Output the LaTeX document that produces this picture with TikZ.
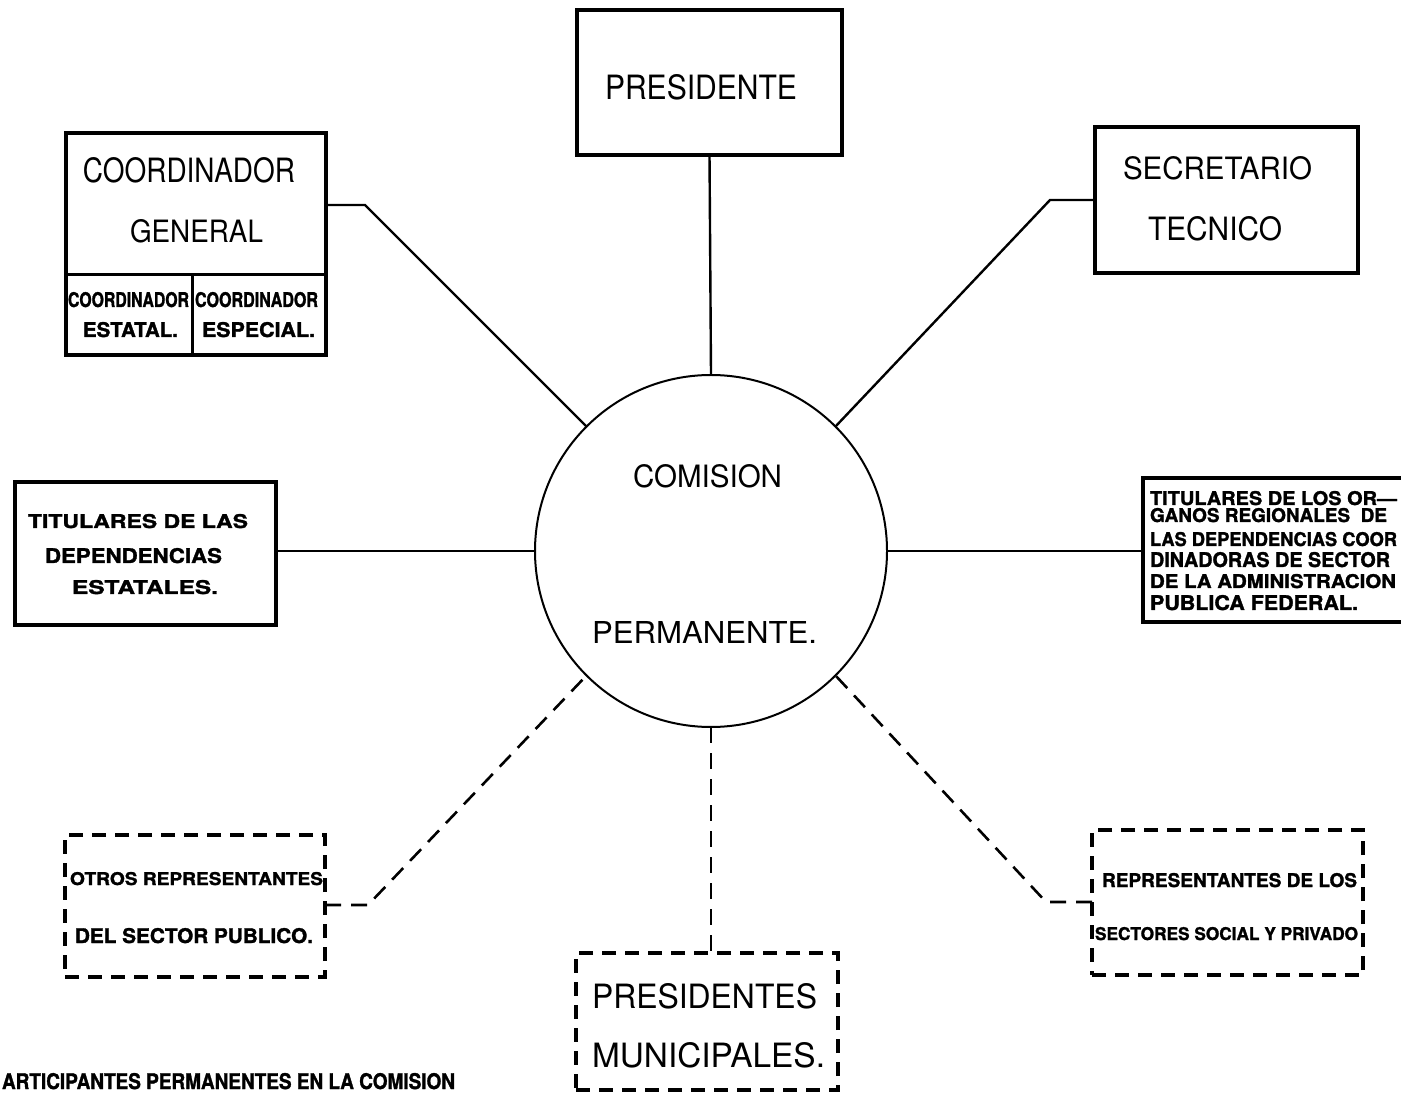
\documentclass[tikz,border=0pt]{standalone}
\usepackage{fontspec}
\usepackage{graphicx}
\setmainfont{TeX Gyre Heros}
\newfontfamily\heavy{TeX Gyre Heros}[BoldFeatures={FakeBold=1.5}]
\newdimen\pxu \pxu=0.5pt
\newcommand\ft[3]{\resizebox{#1\pxu}{#2\pxu}{#3}}
\newcommand\hb{\heavy\bfseries}
\tikzset{
  box/.style={draw, rectangle, line width=1.7pt, inner sep=0pt, outer sep=0pt},
  dbox/.style={box, dash pattern=on 14\pxu off 9\pxu},
  conn/.style={line width=1.2pt},
  dconn/.style={conn, line width=1.3pt, dash pattern=on 16\pxu off 10\pxu},
  lbl/.style={inner sep=0pt, outer sep=0pt, anchor=base west},
}
\begin{document}
\begin{tikzpicture}[x=0.5pt, y=-0.5pt]
\useasboundingbox (0,0) rectangle (1401,1095);
\clip (0,0) rectangle (1401,1095);

% central circle
\node[draw, circle, line width=1pt, minimum size=352\pxu, inner sep=0pt, outer sep=0pt] (com) at (711,551) {};
\node[lbl] (comA) at (633,488) {\ft{149}{23}{COMISION}};
\node[lbl] (comB) at (592,643) {\ft{225}{22}{PERMANENTE.}};

% boxes
\node[box, minimum width=265\pxu, minimum height=145\pxu] (pres) at (709.5,82.5) {};
\node[box, minimum width=260\pxu, minimum height=222\pxu] (cg) at (196,244) {};
\node[box, minimum width=263\pxu, minimum height=146\pxu] (sec) at (1226.5,200) {};
\node[box, minimum width=261\pxu, minimum height=143\pxu] (tde) at (145.5,553.5) {};
\node[box, minimum width=272\pxu, minimum height=144\pxu] (tor) at (1279,550) {};
\node[dbox, minimum width=260\pxu, minimum height=142\pxu] (otros) at (195,906) {};
\node[dbox, minimum width=262\pxu, minimum height=137\pxu] (pm) at (707,1021.5) {};
\node[dbox, minimum width=271\pxu, minimum height=145\pxu] (rep) at (1227.5,902.5) {};

% subdivisions of coordinador general
\coordinate (cgm) at (66,275);
\coordinate (cgv) at (192,275);
\draw[line width=1.5pt] (cgm) -- (cgm -| cg.east);
\draw[line width=1.5pt] (cgv) -- (cgv |- cg.south);

% texts
\node[lbl] (t1) at (605,100) {\ft{192}{25}{PRESIDENTE}};
\node[lbl] (t2) at (83,183) {\ft{212}{25}{COORDINADOR}};
\node[lbl] (t3) at (130,243) {\ft{133}{23}{GENERAL}};
\node[lbl] (t4) at (68,307) {\ft{121}{15}{\hb COORDINADOR}};
\node[lbl] (t5) at (83,337) {\ft{95}{15}{\hb ESTATAL.}};
\node[lbl] (t6) at (195,307) {\ft{123}{15}{\hb COORDINADOR}};
\node[lbl] (t7) at (202,337) {\ft{113}{15}{\hb ESPECIAL.}};
\node[lbl] (t8) at (1123,180) {\ft{189}{23}{SECRETARIO}};
\node[lbl] (t9) at (1148,241) {\ft{134}{24}{TECNICO}};
\node[lbl] (t10) at (28,528) {\ft{220}{14}{\hb TITULARES DE LAS}};
\node[lbl] (t11) at (45,563) {\ft{177}{15}{\hb DEPENDENCIAS}};
\node[lbl] (t12) at (72,594) {\ft{146}{14}{\hb ESTATALES.}};
\node[lbl] (t13) at (1150,505) {\ft{247}{14}{\hb TITULARES DE LOS OR—}};
\node[lbl] (t14) at (1150,522) {\ft{237}{14}{\hb GANOS REGIONALES\ \ DE}};
\node[lbl] (t15) at (1150,546) {\ft{247}{14}{\hb LAS DEPENDENCIAS COOR}};
\node[lbl] (t16) at (1150,567) {\ft{240}{15}{\hb DINADORAS DE SECTOR}};
\node[lbl] (t17) at (1150,588) {\ft{246}{14}{\hb DE LA ADMINISTRACION}};
\node[lbl] (t18) at (1150,610) {\ft{208}{15}{\hb PUBLICA FEDERAL.}};
\node[lbl] (t19) at (70,885) {\ft{253}{13}{\hb OTROS REPRESENTANTES}};
\node[lbl] (t20) at (75,943) {\ft{238}{15}{\hb DEL SECTOR PUBLICO.}};
\node[lbl] (t21) at (592,1008) {\ft{225}{25}{PRESIDENTES}};
\node[lbl] (t22) at (592,1067) {\ft{233}{25}{MUNICIPALES.}};
\node[lbl] (t23) at (1102,887) {\ft{255}{14}{\hb REPRESENTANTES DE LOS}};
\node[lbl] (t24) at (1095,940) {\ft{263}{13}{\hb SECTORES SOCIAL Y PRIVADO}};
\node[lbl] (cap) at (2,1089) {\ft{453}{16}{\hb ARTICIPANTES PERMANENTES EN LA COMISION}};

% connectors
\coordinate (b1) at (365,205);
\coordinate (b2) at (1050,200);
\coordinate (b3) at (368,905);
\coordinate (b4) at (1046,902);
\draw[conn] (pres.south) -- (com.north);
\draw[conn] (cg.east |- b1) -- (b1) -- (com.135);
\draw[conn] (sec.west |- b2) -- (b2) -- (com.45);
\draw[conn] (com.west -| tde.east) -- (com.west);
\draw[conn] (com.east) -- (com.east -| tor.west);
\draw[dconn] (otros.east |- b3) -- (b3) -- (com.225);
\draw[dconn] (rep.west |- b4) -- (b4) -- (com.315);
\draw[dconn] (com.south) -- (com.south |- pm.north);
\end{tikzpicture}
\end{document}
